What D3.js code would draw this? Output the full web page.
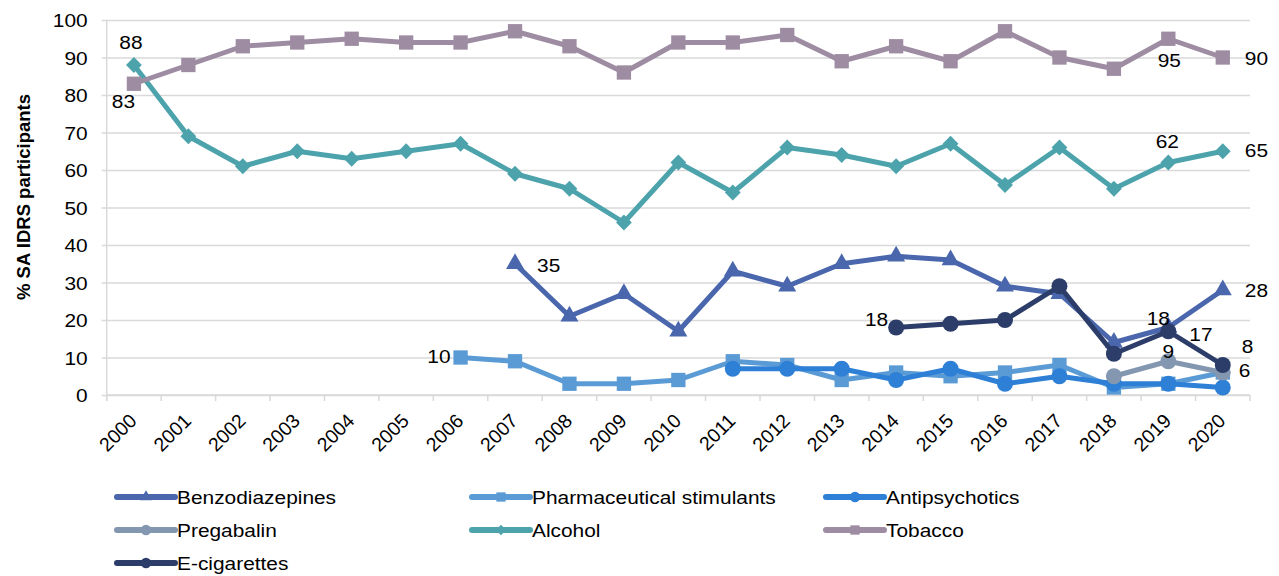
<!DOCTYPE html>
<html>
<head>
<meta charset="utf-8">
<script src="https://cdn.jsdelivr.net/npm/d3@7"></script>
<style>
  body { margin: 0; background: #fff; }
  text { font-family: "Liberation Sans", Arial, sans-serif; fill: #000; }
</style>
</head>
<body>
<script>
// chart size and plot box
const DIM = { width: 1279, height: 576, left: 106.7, right: 1250, top: 20, bottom: 395 };
const STRETCH = 1.13;   // text in the source is a bit wider than tall
const FS = 18.5;

// data
const years = d3.range(2000, 2021).map(String);
const benzodiazepines = [null, null, null, null, null, null, null, 35, 21, 27, 17, 33, 29, 35, 37, 36, 29, 27, 14, 18, 28];
const pharmStimulants = [null, null, null, null, null, null, 10, 9, 3, 3, 4, 9, 8, 4, 6, 5, 6, 8, 2, 3, 6];
const antipsychotics  = [null, null, null, null, null, null, null, null, null, null, null, 7, 7, 7, 4, 7, 3, 5, 3, 3, 2];
const pregabalin      = [null, null, null, null, null, null, null, null, null, null, null, null, null, null, null, null, null, null, 5, 9, 6];
const alcohol         = [88, 69, 61, 65, 63, 65, 67, 59, 55, 46, 62, 54, 66, 64, 61, 67, 56, 66, 55, 62, 65];
const tobacco         = [83, 88, 93, 94, 95, 94, 94, 97, 93, 86, 94, 94, 96, 89, 93, 89, 97, 90, 87, 95, 90];
const eCigarettes     = [null, null, null, null, null, null, null, null, null, null, null, null, null, null, 18, 19, 20, 29, 11, 17, 8];
const yTicks = [0, 10, 20, 30, 40, 50, 60, 70, 80, 90, 100];

const series = [
  { name: 'Benzodiazepines', values: benzodiazepines, color: '#4A66AC', marker: 'triangle' },
  { name: 'Pharmaceutical stimulants', values: pharmStimulants, color: '#5B9BD5', marker: 'square' },
  { name: 'Antipsychotics', values: antipsychotics, color: '#2E7FD6', marker: 'circle' },
  { name: 'Pregabalin', values: pregabalin, color: '#8497B0', marker: 'circle' },
  { name: 'Alcohol', values: alcohol, color: '#4DA3AC', marker: 'diamond' },
  { name: 'Tobacco', values: tobacco, color: '#9E8CA3', marker: 'square' },
  { name: 'E-cigarettes', values: eCigarettes, color: '#2C3D69', marker: 'circle' }
];

// which points carry a value label, and where the label sits relative to the point
const labels = [
  { s: 'Tobacco', year: '2000', dx: -10.5, dy: 24, anchor: 'middle' },
  { s: 'Alcohol', year: '2000', dx: -3, dy: -16, anchor: 'middle' },
  { s: 'Tobacco', year: '2019', dx: 1, dy: 28, anchor: 'middle' },
  { s: 'Tobacco', year: '2020', dx: 22, dy: 7.5, anchor: 'start' },
  { s: 'Alcohol', year: '2019', dx: -1, dy: -14.5, anchor: 'middle' },
  { s: 'Alcohol', year: '2020', dx: 22, dy: 6, anchor: 'start' },
  { s: 'Benzodiazepines', year: '2007', dx: 22, dy: 8, anchor: 'start' },
  { s: 'Pharmaceutical stimulants', year: '2006', dx: -10, dy: 5, anchor: 'end' },
  { s: 'E-cigarettes', year: '2014', dx: -8, dy: -1.5, anchor: 'end' },
  { s: 'Benzodiazepines', year: '2019', dx: -10, dy: -2.5, anchor: 'middle' },
  { s: 'E-cigarettes', year: '2019', dx: 21, dy: 10, anchor: 'start' },
  { s: 'E-cigarettes', year: '2020', dx: 19, dy: -12, anchor: 'start' },
  { s: 'Pregabalin', year: '2019', dx: 0, dy: -3, anchor: 'middle' },
  { s: 'Pregabalin', year: '2020', dx: 16, dy: 4.5, anchor: 'start' },
  { s: 'Benzodiazepines', year: '2020', dx: 22, dy: 7, anchor: 'start' }
];

const svg = d3.select('body').append('svg')
  .attr('width', DIM.width)
  .attr('height', DIM.height);

const x = d3.scaleBand().domain(years).range([DIM.left, DIM.right]).padding(0);
const y = d3.scaleLinear().domain([0, 100]).range([DIM.bottom, DIM.top]);
const cx = yr => x(yr) + x.bandwidth() / 2;

// gridlines + y labels
const yAxis = d3.axisLeft(y)
  .tickValues(yTicks)
  .tickSize(-(DIM.right - DIM.left) - 5)
  .tickPadding(14);
const yAxisGroup = svg.append('g')
  .attr('transform', `translate(${DIM.left - 5},0)`)
  .call(yAxis);
yAxisGroup.select('.domain').remove();
yAxisGroup.selectAll('.tick line').attr('stroke', '#D9D9D9').attr('stroke-width', 1.5);
yAxisGroup.selectAll('.tick text')
  .attr('font-size', FS)
  .attr('dy', null)
  .attr('y', 6.5)
  .attr('transform', `translate(-14,0) scale(${STRETCH},1) translate(14,0)`);

// vertical axis line
svg.append('line')
  .attr('x1', DIM.left).attr('x2', DIM.left)
  .attr('y1', DIM.top).attr('y2', DIM.bottom + 6)
  .attr('stroke', '#D9D9D9').attr('stroke-width', 1.5);

// x axis: tick marks between categories
const xAxisGroup = svg.append('g').attr('transform', `translate(0,${DIM.bottom})`);
xAxisGroup.append('line')
  .attr('x1', DIM.left).attr('x2', DIM.right)
  .attr('stroke', '#D9D9D9').attr('stroke-width', 1.5);
xAxisGroup.selectAll('line.tk')
  .data(years.concat(['end']))
  .join('line')
  .attr('class', 'tk')
  .attr('x1', d => d === 'end' ? DIM.right : x(d))
  .attr('x2', d => d === 'end' ? DIM.right : x(d))
  .attr('y1', 0).attr('y2', 6)
  .attr('stroke', '#D9D9D9').attr('stroke-width', 1.5);
xAxisGroup.selectAll('text')
  .data(years)
  .join('text')
  .attr('text-anchor', 'end')
  .attr('font-size', 19.5)
  .attr('transform', d => `translate(${cx(d) + 4},27) rotate(-45)`)
  .text(d => d);

// y axis title
svg.append('text')
  .attr('transform', `translate(30,197) rotate(-90)`)
  .attr('text-anchor', 'middle')
  .attr('font-size', 18.5)
  .attr('font-weight', 'bold')
  .text('% SA IDRS participants');

// marker shapes
const symbolFor = (m, scale = 1) => {
  if (m === 'triangle') return d3.symbol(d3.symbolTriangle, 140 * scale * scale)();
  if (m === 'square') return d3.symbol(d3.symbolSquare, 205 * scale * scale)();
  if (m === 'diamond') return d3.symbol(d3.symbolSquare, 125 * scale * scale)();
  return d3.symbol(d3.symbolCircle, 200 * scale * scale)();
};

const line = d3.line()
  .defined(d => d.v != null)
  .x(d => cx(d.year))
  .y(d => y(d.v));

series.forEach(s => {
  const pts = years.map((yr, i) => ({ year: yr, v: s.values[i] }));
  const g = svg.append('g');
  g.append('path')
    .datum(pts)
    .attr('fill', 'none')
    .attr('stroke', s.color)
    .attr('stroke-width', 5)
    .attr('stroke-linejoin', 'round')
    .attr('d', line);
  g.selectAll('path.mk')
    .data(pts.filter(d => d.v != null))
    .join('path')
    .attr('class', 'mk')
    .attr('fill', s.color)
    .attr('d', symbolFor(s.marker))
    .attr('transform', d => `translate(${cx(d.year)},${y(d.v)})${s.marker === 'diamond' ? ' rotate(45)' : ''}`);
});

// value labels
svg.append('g').selectAll('text')
  .data(labels)
  .join('text')
  .attr('font-size', FS)
  .attr('text-anchor', d => d.anchor)
  .attr('transform', d => {
    const s = series.find(e => e.name === d.s);
    const v = s.values[years.indexOf(d.year)];
    return `translate(${cx(d.year) + d.dx},${y(v) + d.dy}) scale(${STRETCH},1)`;
  })
  .text(d => {
    const s = series.find(e => e.name === d.s);
    return s.values[years.indexOf(d.year)];
  });

// legend
const legendCols = [117, 472, 826];
const legendRows = [497, 530, 563];
const legend = svg.append('g').selectAll('g')
  .data(series)
  .join('g')
  .attr('transform', (d, i) => `translate(${legendCols[i % 3]},${legendRows[Math.floor(i / 3)]})`);
legend.append('line')
  .attr('x1', 0).attr('x2', 58)
  .attr('stroke', d => d.color)
  .attr('stroke-width', 6)
  .attr('stroke-linecap', 'round');
legend.append('path')
  .attr('fill', d => d.color)
  .attr('d', d => symbolFor(d.marker, 0.65))
  .attr('transform', d => `translate(29,0)${d.marker === 'diamond' ? ' rotate(45)' : ''}`);
legend.append('text')
  .attr('font-size', FS)
  .attr('transform', `translate(60,7) scale(${STRETCH},1)`)
  .text(d => d.name);
</script>
</body>
</html>
